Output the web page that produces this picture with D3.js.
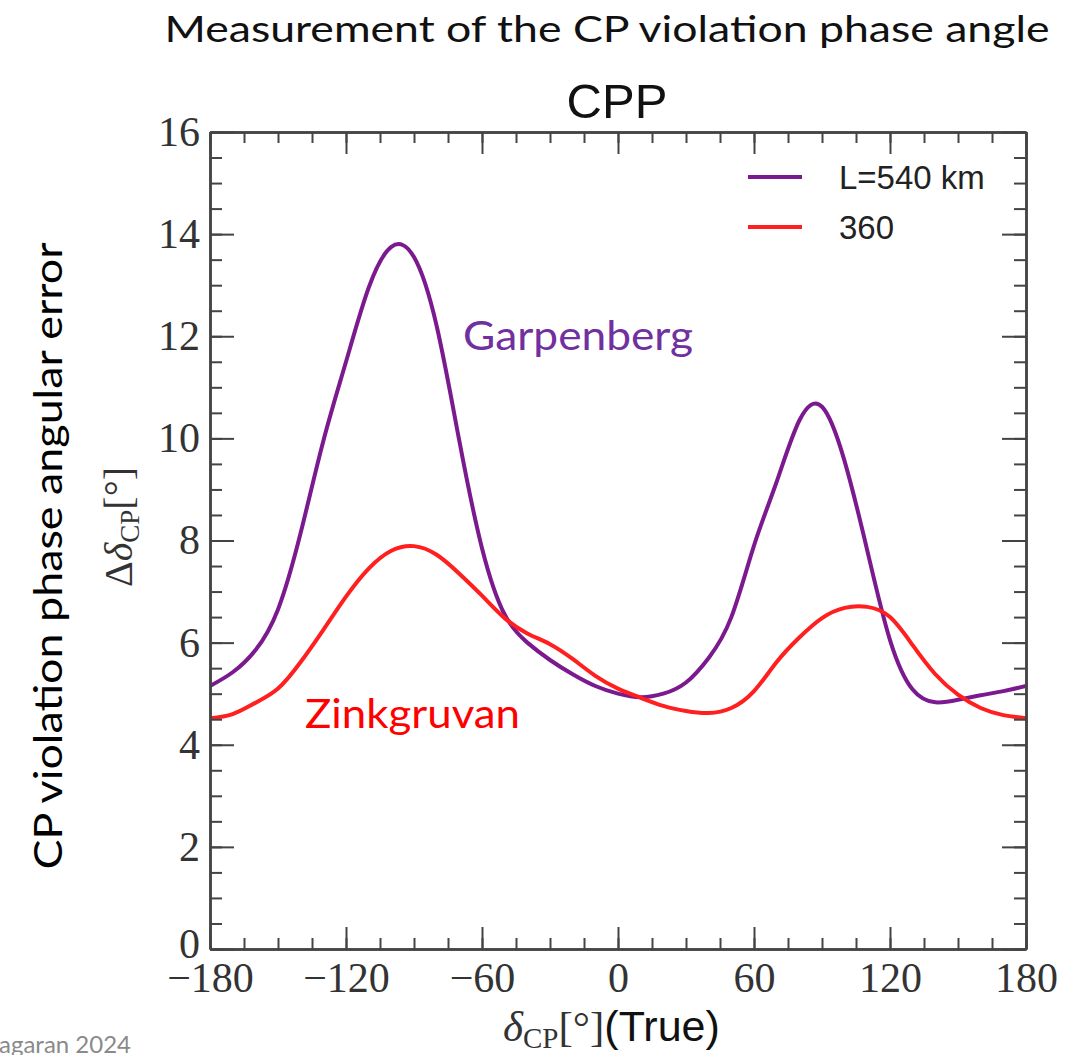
<!DOCTYPE html>
<html>
<head>
<meta charset="utf-8">
<script src="https://cdn.jsdelivr.net/npm/d3@7"></script>
<style>
  body { margin: 0; background: #fff; }
  svg text { font-kerning: normal; }
</style>
</head>
<body>
<div id="chart"></div>
<script>
// ---- data ----
const phase = [-180,-170,-160,-150,-140,-130,-120,-110,-100,-90,-80,-70,-60,-50,-40,-30,-20,-10,
  0,10,20,30,40,50,60,70,80,90,100,110,120,130,140,150,160,170,180];
const err540 = [5.15,5.42,5.85,6.65,8.15,9.95,11.5,12.95,13.75,13.55,12.2,9.95,7.85,6.55,6.0,5.66,5.38,5.15,
  5.0,4.93,5.0,5.22,5.7,6.5,7.9,9.15,10.35,10.62,9.55,7.8,6.05,5.08,4.83,4.88,4.97,5.05,5.15];
const err360 = [4.52,4.6,4.82,5.1,5.62,6.25,6.9,7.45,7.8,7.89,7.72,7.35,6.92,6.48,6.18,5.97,5.68,5.35,
  5.1,4.92,4.76,4.66,4.62,4.72,5.05,5.62,6.1,6.48,6.68,6.7,6.5,5.95,5.38,4.98,4.72,4.58,4.52];
const seriesNames = ["L=540 km", "360"];
const seriesColors = ["#7b1a8e", "#ff1f1f"];
const xMajor = [-180,-120,-60,0,60,120,180];
const yMajor = [0,2,4,6,8,10,12,14,16];

var width = 1078;
var height = 1055;

var svg = d3.select("#chart").append("svg")
  .attr("width", width)
  .attr("height", height);

var x = d3.scaleLinear().domain([-180, 180]).range([210, 1026]);
var y = d3.scaleLinear().domain([0, 16]).range([949, 132]);

const serif = "'Liberation Serif', 'Times New Roman', serif";
const sans = "'Liberation Sans', Arial, sans-serif";
const calib = "Lato, 'Open Sans', sans-serif";

// slide title
svg.append("text")
  .attr("x", 607).attr("y", 42)
  .attr("text-anchor", "middle")
  .attr("textLength", 885).attr("lengthAdjust", "spacingAndGlyphs")
  .style("font-family", calib).style("font-size", "37px").style("fill", "#111")
  .text("Measurement of the CP violation phase angle");

// plot title
svg.append("text")
  .attr("x", 617).attr("y", 118)
  .attr("text-anchor", "middle")
  .style("font-family", sans).style("font-size", "49px").style("fill", "#111")
  .text("CPP");

// curves
svg.append("clipPath").attr("id", "plotclip")
  .append("rect").attr("x", 210).attr("y", 132).attr("width", 816).attr("height", 817);

var line = d3.line()
  .x(function (d) { return x(d[0]); })
  .y(function (d) { return y(d[1]); })
  .curve(d3.curveNatural);

[err540, err360].forEach(function (vals, i) {
  svg.append("path")
    .datum(phase.map(function (p, j) { return [p, vals[j]]; }))
    .attr("clip-path", "url(#plotclip)")
    .attr("d", line)
    .attr("fill", "none")
    .attr("stroke", seriesColors[i])
    .attr("stroke-width", 4);
});

// axes, ticks pointing inward on all four sides
function styleAxis(g) {
  g.selectAll("line").attr("stroke", "#444").attr("stroke-width", 2);
  g.select(".domain").attr("stroke", "#444").attr("stroke-width", 2.5);
}

svg.append("g").attr("transform", "translate(0,949)")
  .call(d3.axisBottom(x).tickValues(d3.range(-180, 181, 15)).tickSize(-11).tickSizeOuter(0).tickFormat(""))
  .call(styleAxis);
var xAxis = svg.append("g").attr("transform", "translate(0,949)")
  .call(d3.axisBottom(x).tickValues(xMajor).tickSize(-22).tickSizeOuter(0).tickPadding(13))
  .call(styleAxis);
xAxis.selectAll("text")
  .style("font-family", serif).style("font-size", "42px").style("fill", "#333");

svg.append("g").attr("transform", "translate(0,132)")
  .call(d3.axisTop(x).tickValues(d3.range(-180, 181, 15)).tickSize(-11).tickSizeOuter(0).tickFormat(""))
  .call(styleAxis);
svg.append("g").attr("transform", "translate(0,132)")
  .call(d3.axisTop(x).tickValues(xMajor).tickSize(-22).tickSizeOuter(0).tickFormat(""))
  .call(styleAxis);

svg.append("g").attr("transform", "translate(210,0)")
  .call(d3.axisLeft(y).tickValues(d3.range(0, 16.01, 0.5)).tickSize(-12).tickSizeOuter(0).tickFormat(""))
  .call(styleAxis);
var yAxis = svg.append("g").attr("transform", "translate(210,0)")
  .call(d3.axisLeft(y).tickValues(yMajor).tickSize(-24).tickSizeOuter(0).tickPadding(10))
  .call(styleAxis);
yAxis.selectAll("text")
  .style("font-family", serif).style("font-size", "42px").style("fill", "#333");
// the 0 label sits a little above the corner so it clears the -180 label
yAxis.selectAll("text").filter(function (d) { return d === 0; }).attr("dy", "0.2em");

svg.append("g").attr("transform", "translate(1026,0)")
  .call(d3.axisRight(y).tickValues(d3.range(0, 16.01, 0.5)).tickSize(-12).tickSizeOuter(0).tickFormat(""))
  .call(styleAxis);
svg.append("g").attr("transform", "translate(1026,0)")
  .call(d3.axisRight(y).tickValues(yMajor).tickSize(-24).tickSizeOuter(0).tickFormat(""))
  .call(styleAxis);

// axis titles
var xt = svg.append("text")
  .attr("x", 503).attr("y", 1041)
  .style("font-family", serif).style("font-size", "43px").style("fill", "#333");
xt.append("tspan").style("font-style", "italic").text("δ");
xt.append("tspan").attr("dy", 7).style("font-size", "29px").text("CP");
xt.append("tspan").attr("dy", -7).text("[°]");
xt.append("tspan").style("font-family", sans).style("fill", "#111").text("(True)");

var yt = svg.append("text")
  .attr("transform", "translate(132,527) rotate(-90)")
  .attr("text-anchor", "middle")
  .style("font-family", serif).style("font-size", "40px").style("fill", "#333");
yt.append("tspan").text("Δ");
yt.append("tspan").style("font-style", "italic").text("δ");
yt.append("tspan").attr("dy", 7).style("font-size", "27px").text("CP");
yt.append("tspan").attr("dy", -7).text("[°]");

svg.append("text")
  .attr("transform", "translate(62,556) rotate(-90)")
  .attr("text-anchor", "middle")
  .attr("textLength", 627).attr("lengthAdjust", "spacingAndGlyphs")
  .style("font-family", calib).style("font-size", "38px").style("fill", "#000")
  .text("CP violation phase  angular error");

// legend
seriesNames.forEach(function (name, i) {
  var ly = 177 + i * 50;
  svg.append("line")
    .attr("x1", 748).attr("x2", 802).attr("y1", ly).attr("y2", ly)
    .attr("stroke", seriesColors[i]).attr("stroke-width", 4);
  svg.append("text")
    .attr("x", 839).attr("y", ly + 12)
    .style("font-family", sans).style("font-size", "33px").style("fill", "#222")
    .text(name);
});

// site annotations
svg.append("text")
  .attr("x", 463).attr("y", 350)
  .attr("textLength", 230).attr("lengthAdjust", "spacingAndGlyphs")
  .style("font-family", calib).style("font-size", "40px").style("fill", "#7030a0")
  .text("Garpenberg");
svg.append("text")
  .attr("x", 305).attr("y", 728)
  .attr("textLength", 215).attr("lengthAdjust", "spacingAndGlyphs")
  .style("font-family", calib).style("font-size", "40px").style("fill", "#ff0000")
  .text("Zinkgruvan");

// cropped footer credit
svg.append("text")
  .attr("x", -1).attr("y", 1053)
  .style("font-family", calib).style("font-size", "24px").style("fill", "#8a8a8a")
  .text("agaran 2024");
</script>
</body>
</html>
